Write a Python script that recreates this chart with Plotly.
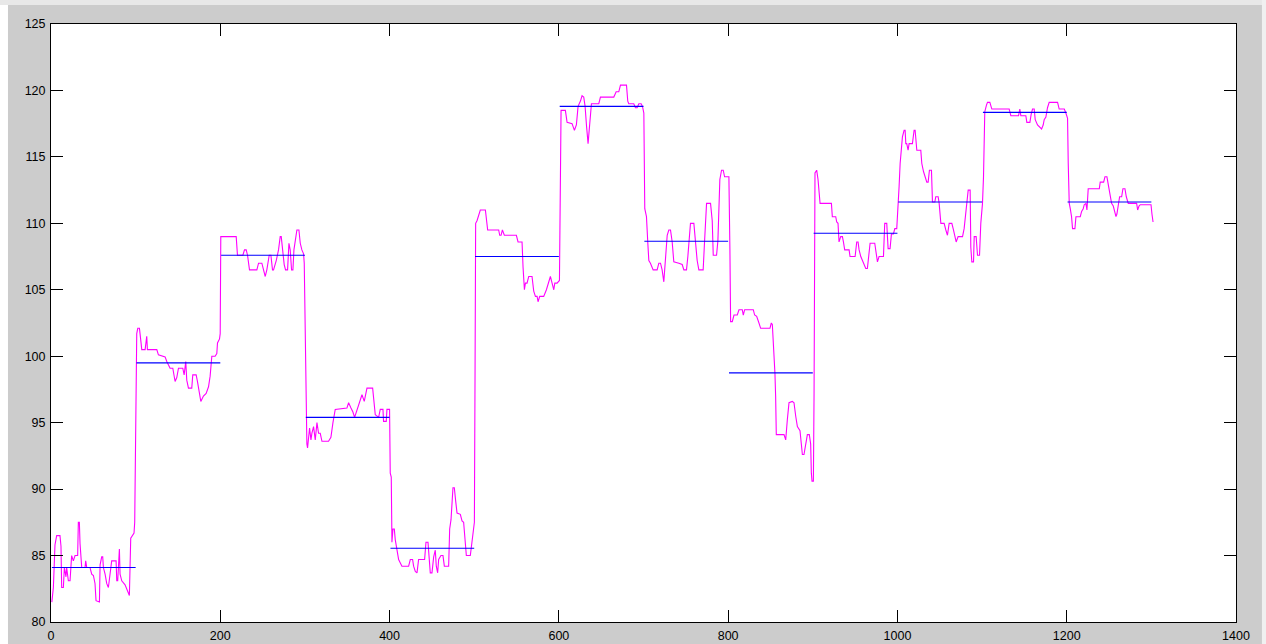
import plotly.graph_objects as go

# Sampled signal: (sample index, value) vertices of the noisy trace
signal_x = [
    1, 2.8, 4.7, 6.7, 10.6, 11.8, 12.6, 14.6, 15.8, 17.7, 18.5, 20.5, 22.5, 24.4, 26.4, 28.4,
    31.5, 32.3, 33.5, 34.3, 36.3, 40.2, 41, 42.2, 46.1, 48.1, 50.1, 52, 53.2, 57.2, 58, 59.9,
    61.1, 61.9, 63.9, 65.8, 67.8, 69.8, 71.7, 76.9, 77.7, 78.8, 80, 80.8, 81.6, 83.6, 87.5, 90.3,
    91.8, 92.6, 94.2, 95.8, 98.1, 98.9, 99.7, 100.5, 101.3, 102.5, 104.5, 106.4, 107.2, 111.2,
    112.3, 113.1, 113.9, 125, 126.9, 134.8, 136.8, 140.7, 143.9, 145.4, 146.6, 148.6, 150.6,
    155.7, 157.3, 159.2, 160.4, 162.4, 166.3, 167.5, 171.5, 173, 175.4, 177,
    180.1, 183.3, 186.1, 188, 190, 193.9, 195.9, 196.7, 199.1, 199.9, 200.6, 218.8, 220.3,
    226.7, 228.6, 230.6, 232.2, 234.5, 243.2, 245.2, 249.1, 251.1, 253.1, 255, 257.8, 259.8,
    261.7, 262.9, 266.1, 268.8, 270.8, 272, 274, 275.5, 277.1, 279.5, 281.1, 282.6, 284.2,
    285.8, 287, 288.9, 290.5, 292.9, 294.5, 296.4, 298.4, 299.2, 300.8, 301.5, 302.3, 303.1,
    304.3, 305.5, 307.1, 308.2, 310.2, 312.2, 314.2, 316.1, 318.1, 320.1, 327.9, 330.7, 333.1,
    335.8, 349.6, 351.6, 354.4, 356.7, 358.7, 361.5, 364.6, 367.4, 370.1, 373.3, 380, 381.2,
    383.1, 387.1, 389, 392.2, 392.9, 396.1, 396.9, 400,
    400.8, 402, 402.8, 404, 405.6, 406.7, 408.7, 410.7, 414.6, 422.5, 424.5, 427.2, 428.4,
    430.4, 432.4, 434.3, 441.4, 443, 445.4, 446.5, 448.1, 450.1, 452.1, 454, 455.2, 456.8, 458,
    460.7, 463.1, 464.7, 469.8, 471, 472.6, 474.9, 476.5, 478.1, 479.7, 483.6, 485.6, 487.5,
    489.5, 490.7, 495.4, 496.6, 498.6, 500.2, 501, 501.7, 503.3, 505.3, 507.2, 513.2, 515.1,
    515.9, 528.9, 530.1, 531.7, 533.3, 535.6, 549.8, 551.8, 556.5, 557.7, 559.3, 560.5, 562.4,
    564.4, 568.3, 570.3, 572.3, 574.3, 575.4, 577.4, 582.1, 585.3, 588.1, 590, 592, 594, 595.2,
    597.9, 600.7,
    601.5, 602.6, 607.7, 609.7, 615.6, 618.4, 620.7, 622.7, 625.5, 627.4, 629.4, 631, 632.6,
    634.5, 635.3, 636.5, 638.5, 647.2, 649.1, 664.9, 667.7, 670.8, 672.8, 679.9, 681.4, 682.6,
    688.5, 690.5, 692.5, 694.5, 697.2, 698.8, 700.4, 701.5, 703.5, 705.1, 706.3, 708.2, 711.4,
    716.1, 718.1, 720.1, 722, 724, 726, 728, 729.9, 731.9, 733.9, 735.8, 741.8, 745.7, 747.7,
    750.8, 752.4, 755.5, 759.5, 761.5, 763.4, 765.4, 770.5, 772.1, 774.5, 779.2, 781.2, 782.4,
    786.3, 787.9, 790.2, 792.2, 794.2, 795.8, 800.9, 802.1,
    802.9, 804.9, 806.9, 810.8, 812.8, 816.7, 817.9, 819.5, 829.7, 831.3, 833.7, 836.4, 838.4,
    849.4, 851, 852.2, 853.4, 854.2, 855.3, 856.1, 856.9, 866, 868, 869.9, 871.9, 875.8, 877.8,
    879.8, 881.8, 884.9, 886.5, 887.7, 889.6, 891.6, 893.6, 895.9, 897.5, 898.3, 899.1, 900.7,
    901.5, 902.6, 904.6, 906.2, 907.4, 908.6, 922, 923.1, 927.1, 928.3, 929.8, 931, 933, 935,
    936.2, 937.7, 942.9, 944, 950, 951.9, 953.5, 954.7, 956.7, 958.6, 960.6, 962.6, 964.5,
    965.7, 967.7, 973.2, 974.4, 976.4, 978.3,
    983.5, 985, 987.4, 988.2, 989, 991.3, 992.9, 995.3, 996.9, 999.2, 1000.8, 1002, 1003.2,
    1004.7, 1005.9, 1007.9, 1009.1, 1009.9, 1011, 1012.6, 1013.8, 1017.7, 1019.7, 1020.9,
    1022.9, 1027.6, 1028.8, 1030.8, 1032.7, 1034.7, 1036.3, 1037.8, 1040.2, 1041.4, 1044.2,
    1045.3, 1048.1, 1049.3, 1051.3, 1055.2, 1057.2, 1059.1, 1061.1, 1064.3, 1066.2, 1067.8,
    1069.4, 1071.7, 1076.9, 1078.8, 1080.8, 1082, 1083.6, 1085.9, 1086.7, 1087.9, 1089.9,
    1090.7, 1093, 1094.6, 1097, 1098.5, 1100.5, 1101.7,
    1102.5, 1103.2, 1105.2, 1106.4, 1109.2, 1111.5, 1132, 1134, 1143.1, 1144.6, 1145.8, 1151.7,
    1152.9, 1156.5, 1158, 1159.6, 1161.6, 1162.8, 1165.5, 1168.3, 1170.3, 1172.2, 1173.4,
    1175.4, 1177.3, 1179.3, 1189.2, 1191.1, 1197.1, 1199, 1201,
    1201.8, 1203, 1204.2, 1205.7, 1206.9, 1209.7, 1210.9, 1216, 1217.6, 1219.5, 1220.7, 1222.7,
    1223.9, 1225.4, 1238.5, 1239.6, 1243.6, 1245.2, 1247.5, 1249.1, 1250.3, 1251.5, 1253, 1255,
    1258.2, 1259.3, 1261.3, 1262.5, 1264.9, 1266.4, 1268.8, 1270.4, 1272.7, 1282.6, 1283.8,
    1285.4, 1286.9, 1299.6, 1300.7, 1302,
]
signal_y = [
    81.5, 82.6, 85.8, 86.5, 86.5, 85.7, 82.6, 82.6, 84.1, 83.4, 84.1, 83.1, 83.1, 85.0, 84.6, 85.0,
    85.0, 87.5, 87.5, 85.9, 84.1, 84.1, 84.6, 84.1, 84.1, 83.6, 83.5, 82.9, 81.6, 81.5, 84.3, 84.9,
    84.9, 84.1, 83.6, 82.9, 82.6, 83.6, 84.6, 84.6, 83.1, 83.1, 85.5, 85.5, 83.6, 83.1, 82.8, 82.3,
    82.0, 82.0, 86.3, 86.5, 86.7, 87.5, 94.8, 97.7, 101.7, 102.1, 102.1, 101.0, 100.5, 100.5,
    101.5, 101.5, 100.5, 100.5, 100.1, 99.95, 99.6, 99.1, 99.1, 98.4, 98.1, 98.4, 99.1,
    99.1, 98.6, 99.6, 98.2, 97.6, 97.6, 98.6, 98.6, 98.1, 97.3, 96.6,
    97.0, 97.2, 97.7, 98.5, 100.0, 100.0, 100.2, 101.0, 101.3, 101.7, 109.0, 109.0, 107.6,
    107.6, 108.0, 108.0, 107.6, 106.5, 106.5, 107.0, 107.0, 106.5, 106.0, 106.5, 107.6, 107.6,
    106.5, 106.5, 107.2, 108.0, 109.0, 109.0, 107.5, 106.9, 106.5, 106.5, 108.5, 108.0, 106.5,
    106.5, 108.0, 108.7, 109.5, 109.5, 108.5, 108.0, 107.7, 107.0, 100.2, 95.2, 93.4, 93.1,
    94.2, 94.6, 93.7, 94.2, 94.7, 93.7, 95.0, 94.2, 94.2, 93.6, 93.6, 93.9, 95.0,
    96.0, 96.1, 96.5, 96.1, 95.8, 95.4, 96.0, 96.6, 97.1, 96.6, 97.6, 97.6, 96.7,
    95.6, 95.4, 96.0, 96.0, 95.1, 95.1, 96.0, 96.0,
    91.2, 90.9, 86.0, 87.0, 87.0, 86.2, 85.5, 84.7, 84.2, 84.2, 84.7, 84.7, 84.2,
    83.8, 83.7, 84.7, 84.7, 86.0, 86.0, 84.7, 83.7, 83.7, 84.9, 85.4, 84.2, 83.7, 84.7,
    85.0, 85.0, 84.2, 84.2, 87.0, 87.7, 90.1, 90.1, 89.1, 88.2, 88.1, 87.6, 87.5,
    85.8, 85.0, 85.0, 85.7, 86.7, 87.5, 99.0, 110.0, 110.2, 110.7, 111.0, 111.0, 110.0,
    109.5, 109.5, 109.1, 109.1, 109.5, 109.1, 109.1, 108.6, 108.6, 106.7, 105.0, 105.5, 105.5,
    106.0, 106.0, 104.9, 104.5, 104.5, 104.1, 104.5, 104.5, 105.0, 105.5, 106.0, 105.5, 105.0, 105.5,
    105.5, 105.7,
    110.7, 118.5, 118.5, 117.6, 117.5, 117.0, 117.4, 118.8, 119.2, 119.6, 119.5, 118.8, 117.4,
    116.0, 116.6, 117.5, 119.0, 119.0, 119.5, 119.5, 119.9, 119.9, 120.4, 120.4, 119.2, 119.0,
    119.0, 118.7, 118.7, 119.0, 119.0, 118.8, 118.3, 111.1, 110.5, 108.5, 107.2, 107.0, 106.5,
    106.5, 107.0, 107.0, 106.5, 105.6, 107.4, 109.1, 109.5, 109.5, 108.6, 107.1, 107.0, 106.9, 106.5,
    106.5, 107.5, 110.0, 110.0, 108.7, 107.2, 106.5, 106.5, 108.6, 111.5, 111.5, 110.2, 107.6,
    107.6, 108.7, 113.3, 114.0, 114.0, 113.5, 113.5, 108.0,
    102.6, 102.6, 103.1, 103.1, 103.5, 103.5, 103.1, 103.5, 103.5, 103.1, 103.0, 102.5, 102.1,
    102.1, 102.5, 102.4, 101.2, 100.2, 98.7, 97.0, 94.1, 94.1, 93.7, 95.2, 96.5, 96.6, 96.5,
    95.5, 94.7, 94.4, 93.2, 92.6, 92.6, 93.4, 94.1, 94.1, 93.4, 91.2, 90.6, 90.6,
    97.2, 113.8, 114.0, 113.3, 112.3, 111.5, 111.5, 110.5, 110.5, 110.1, 110.0, 108.6, 109.0, 109.0,
    108.6, 108.0, 108.0, 107.5, 107.5, 108.6, 108.6, 108.0, 107.5, 107.2, 107.0, 106.6, 106.6,
    107.2, 108.5, 108.5, 108.0, 107.1, 107.5,
    107.5, 110.0, 110.0, 109.0, 108.1, 108.1, 109.2, 109.2, 109.6, 109.6, 111.0, 112.8, 114.5,
    115.5, 116.5, 117.0, 117.0, 116.0, 116.0, 115.5, 116.0, 116.0, 117.0, 117.0,
    115.5, 115.5, 114.5, 113.9, 113.5, 113.1, 113.1, 114.0, 114.0, 111.6, 111.6,
    112.0, 112.0, 111.5, 110.0, 110.0, 109.5, 109.1, 110.0, 110.0, 109.5, 109.0,
    108.6, 109.0, 109.0, 109.6, 111.0, 111.8, 112.5, 112.5, 108.2, 107.1, 107.1,
    109.0, 109.0, 107.6, 107.6, 110.0, 111.5, 113.5,
    116.8, 118.4, 118.9, 119.1, 119.1, 118.6, 118.6, 118.1, 118.1, 118.6, 118.1, 118.1,
    117.6, 117.6, 118.2, 118.6, 118.6, 117.8, 117.4, 117.2, 117.1, 117.4, 117.8,
    118.0, 118.7, 119.1, 119.1, 118.6, 118.6, 118.3, 117.9,
    114.5, 111.5, 111.1, 110.5, 109.6, 109.6, 110.5, 110.5, 110.9, 111.1, 111.4, 111.5,
    111.0, 112.6, 112.6, 113.1, 113.1, 113.5, 113.5, 112.9, 112.4, 112.0, 111.5, 111.3,
    110.5, 110.7, 111.4, 112.0, 112.0, 112.6, 112.6, 112.0, 111.5, 111.5, 111.0,
    111.3, 111.4, 111.4, 110.7, 110.1,
]

# Mean level of each 100-sample window
window_starts = [1, 101, 201, 301, 401, 501, 601, 701, 801, 901, 1001, 1101, 1201]
window_means = [84.1, 99.5, 107.6, 95.4, 85.55, 107.5, 118.8, 108.65, 98.75, 109.25, 111.6, 118.35, 111.6]
window_length = 100

x_ticks = [0, 200, 400, 600, 800, 1000, 1200, 1400]
y_ticks = [80, 85, 90, 95, 100, 105, 110, 115, 120, 125]

fig = go.Figure()

fig.add_trace(go.Scatter(
    x=signal_x, y=signal_y, mode="lines",
    line=dict(color="#ff00ff", width=1.1),
    hoverinfo="skip", showlegend=False,
))

# Window means as horizontal segments (None breaks the line between windows)
mean_x, mean_y = [], []
for start, level in zip(window_starts, window_means):
    mean_x += [start, start + window_length - 1, None]
    mean_y += [level, level, None]

fig.add_trace(go.Scatter(
    x=mean_x, y=mean_y, mode="lines",
    line=dict(color="#0000ff", width=1.1),
    hoverinfo="skip", showlegend=False,
))

axis_style = dict(
    showline=True, linecolor="black", linewidth=1, mirror="ticks",
    ticks="inside", ticklen=12, tickwidth=1, tickcolor="black",
    showgrid=False, zeroline=False, automargin=False,
    tickfont=dict(family="Liberation Sans, Arial, sans-serif", size=12.5, color="black"),
)

fig.update_xaxes(range=[0, 1400], tickvals=x_ticks, ticktext=[str(v) for v in x_ticks],
                 ticklabelstandoff=2, **axis_style)
fig.update_yaxes(range=[80, 125], tickvals=y_ticks, ticktext=[str(v) for v in y_ticks],
                 ticklabelstandoff=2, **axis_style)

fig.update_layout(
    width=1266, height=644,
    margin=dict(l=51, r=30, t=24, b=22, autoexpand=False),
    paper_bgcolor="#cccccc",
    plot_bgcolor="white",
    shapes=[
        # light window-frame strips around the grey figure area
        dict(type="rect", xref="paper", yref="paper", x0=-0.05, x1=-0.0363, y0=-0.05, y1=1.06,
             fillcolor="white", line_width=0, layer="above"),
        dict(type="rect", xref="paper", yref="paper", x0=-0.05, x1=1.05, y0=1.0318, y1=1.06,
             fillcolor="#e8e8e8", line_width=0, layer="above"),
        dict(type="rect", xref="paper", yref="paper", x0=1.0219, x1=1.05, y0=-0.05, y1=1.06,
             fillcolor="#f0f0f0", line_width=0, layer="above"),
    ],
)

fig.write_html("out.html")
